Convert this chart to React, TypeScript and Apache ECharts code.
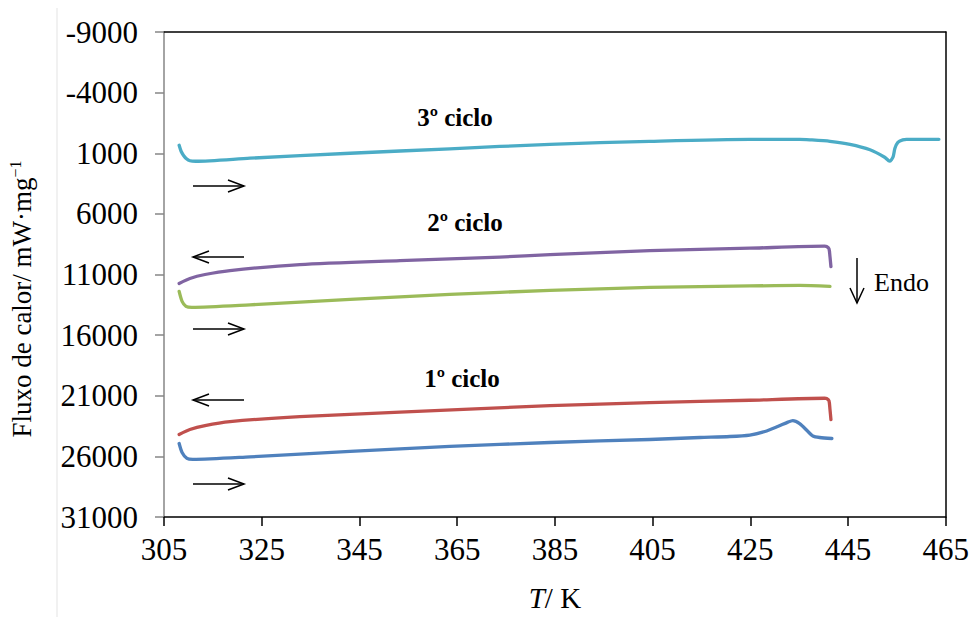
import { useEffect, useRef } from "react";
import * as echarts from "echarts";

const xTicks = [305, 325, 345, 365, 385, 405, 425, 445, 465];
const yTicks = [-9000, -4000, 1000, 6000, 11000, 16000, 21000, 26000, 31000];

// 3º ciclo – aquecimento
const ciclo3Aquec: [number, number][] = [
  [308.1, 345], [308.5, 836], [309.0, 1180], [309.6, 1460], [310.3, 1620], [311.5, 1660],
  [322.6, 1410], [343.1, 1000], [363.5, 631], [384.0, 263], [404.4, 17], [424.9, -147],
  [435.1, -147], [437.2, -107], [441.3, 17], [445.4, 263], [449.5, 713], [452.5, 1328],
  [453.5, 1656], [454.2, 1328], [454.6, 590], [455.2, 98], [456.2, -107], [457.0, -147],
  [463.6, -147],
];
// 2º ciclo – arrefecimento
const ciclo2Arref: [number, number][] = [
  [441.5, 10345], [441.3, 9500], [441.1, 8870], [440.6, 8690], [440.2, 8665], [424.9, 8829],
  [404.4, 9033], [384.0, 9361], [373.7, 9566], [353.3, 9853], [332.8, 10181], [318.5, 10673],
  [313.4, 11000], [310.3, 11328], [308.1, 11738],
];
// 2º ciclo – aquecimento
const ciclo2Aquec: [number, number][] = [
  [308.1, 12394], [308.7, 13213], [309.5, 13623], [310.7, 13705], [322.6, 13500],
  [343.1, 13050], [363.5, 12640], [384.0, 12312], [404.4, 12066], [424.9, 11943],
  [435.1, 11902], [441.3, 11984],
];
// 1º ciclo – arrefecimento
const ciclo1Arref: [number, number][] = [
  [441.5, 22968], [441.3, 22100], [441.1, 21411], [440.6, 21230], [440.2, 21206],
  [424.9, 21370], [404.4, 21575], [384.0, 21821], [353.3, 22353], [332.8, 22722],
  [318.5, 23132], [313.4, 23460], [310.3, 23788], [308.1, 24198],
];
// 1º ciclo – aquecimento
const ciclo1Aquec: [number, number][] = [
  [308.1, 24936], [308.7, 25674], [309.7, 26166], [310.9, 26248], [322.6, 26043],
  [343.1, 25592], [363.5, 25182], [384.0, 24854], [404.4, 24608], [414.7, 24444],
  [420.8, 24362], [424.9, 24239], [428.0, 23952], [430.6, 23542], [432.7, 23173],
  [433.7, 23050], [435.1, 23296], [436.8, 23952], [437.8, 24321], [439.2, 24444],
  [441.7, 24526],
];

const seriesNames = ["3º ciclo aquecimento", "2º ciclo arrefecimento", "2º ciclo aquecimento", "1º ciclo arrefecimento", "1º ciclo aquecimento"];
const seriesColors = ["#4BACC6", "#8064A2", "#9BBB59", "#C0504D", "#4F81BD"];
const seriesData = [ciclo3Aquec, ciclo2Arref, ciclo2Aquec, ciclo1Arref, ciclo1Aquec];

const FONT = "'Liberation Serif', 'Times New Roman', serif";

function arrowRight(x: number, y: number) {
  return {
    type: "group",
    children: [
      { type: "line", shape: { x1: x, y1: y, x2: x + 51, y2: y }, style: { stroke: "#000", lineWidth: 1.5 } },
      { type: "polyline", shape: { points: [[x + 35, y - 6], [x + 51, y], [x + 35, y + 6]] }, style: { stroke: "#000", lineWidth: 1.5, fill: null } },
    ],
  };
}
function arrowLeft(x: number, y: number) {
  return {
    type: "group",
    children: [
      { type: "line", shape: { x1: x, y1: y, x2: x + 51, y2: y }, style: { stroke: "#000", lineWidth: 1.5 } },
      { type: "polyline", shape: { points: [[x + 16, y - 6], [x, y], [x + 16, y + 6]] }, style: { stroke: "#000", lineWidth: 1.5, fill: null } },
    ],
  };
}

export default function App() {
  const ref = useRef<HTMLDivElement>(null);
  useEffect(() => {
    document.body.style.margin = "0";
    const chart = echarts.init(ref.current!, null, { renderer: "svg" });
    chart.setOption({
      animation: false,
      backgroundColor: "#fff",
      grid: { left: 164, right: 26, top: 32, bottom: 97 },
      xAxis: [
        {
          type: "value",
          min: 305,
          max: 465,
          name: "{i|T}/ K",
          nameLocation: "middle",
          nameGap: 66,
          nameTextStyle: {
            fontFamily: FONT,
            fontSize: 29,
            color: "#000",
            rich: { i: { fontFamily: FONT, fontSize: 29, fontStyle: "italic", color: "#000" } },
          },
          axisLine: { show: true, onZero: false, lineStyle: { color: "#000", width: 1.5 } },
          axisTick: { show: true, length: 9, customValues: xTicks, lineStyle: { color: "#000", width: 1.5 } },
          axisLabel: {
            customValues: xTicks,
            margin: 17,
            fontFamily: FONT,
            fontSize: 31,
            color: "#000",
            formatter: (v: number) => String(v),
          },
          splitLine: { show: false },
        },
        {
          type: "value",
          position: "top",
          min: 305,
          max: 465,
          axisLine: { show: true, onZero: false, lineStyle: { color: "#000", width: 1.5 } },
          axisTick: { show: false },
          axisLabel: { show: false },
          splitLine: { show: false },
        },
      ],
      yAxis: [
        {
          type: "value",
          inverse: true,
          min: -9000,
          max: 31000,
          axisLine: { show: true, onZero: false, lineStyle: { color: "#868686", width: 1.5 } },
          axisTick: { show: true, length: 9, customValues: yTicks, lineStyle: { color: "#868686", width: 1.5 } },
          axisLabel: {
            customValues: yTicks,
            margin: 26,
            fontFamily: FONT,
            fontSize: 31,
            color: "#000",
            formatter: (v: number) => String(v),
          },
          splitLine: { show: false },
        },
        {
          type: "value",
          position: "right",
          inverse: true,
          min: -9000,
          max: 31000,
          axisLine: { show: true, onZero: false, lineStyle: { color: "#000", width: 1.5 } },
          axisTick: { show: false },
          axisLabel: { show: false },
          splitLine: { show: false },
        },
      ],
      series: seriesData.map((d, i) => ({
        name: seriesNames[i],
        type: "line",
        data: d,
        showSymbol: false,
        symbol: "none",
        smooth: 0.25,
        lineStyle: { color: seriesColors[i], width: 3.3, cap: "round", join: "round" },
        itemStyle: { color: seriesColors[i] },
      })),
      graphic: [
        { type: "line", shape: { x1: 57, y1: 8, x2: 57, y2: 617 }, style: { stroke: "#e3e3e3", lineWidth: 1 } },
        {
          type: "text",
          x: 22,
          y: 299,
          rotation: Math.PI / 2,
          style: {
            text: "Fluxo de calor/ mW·mg{s|−1}",
            fontFamily: FONT,
            fontSize: 27,
            fill: "#000",
            align: "center",
            verticalAlign: "middle",
            rich: { s: { fontFamily: FONT, fontSize: 16, fill: "#000", verticalAlign: "top", padding: [0, 0, 14, 0] } },
          },
        },
        { type: "text", x: 455, y: 117, style: { text: "3º ciclo", fontFamily: FONT, fontSize: 25, fontWeight: "bold", fill: "#000", align: "center", verticalAlign: "middle" } },
        { type: "text", x: 465, y: 222, style: { text: "2º ciclo", fontFamily: FONT, fontSize: 25, fontWeight: "bold", fill: "#000", align: "center", verticalAlign: "middle" } },
        { type: "text", x: 462, y: 378, style: { text: "1º ciclo", fontFamily: FONT, fontSize: 25, fontWeight: "bold", fill: "#000", align: "center", verticalAlign: "middle" } },
        { type: "text", x: 874, y: 282, style: { text: "Endo", fontFamily: FONT, fontSize: 26, fill: "#000", align: "left", verticalAlign: "middle" } },
        {
          type: "group",
          children: [
            { type: "line", shape: { x1: 857, y1: 258, x2: 857, y2: 303 }, style: { stroke: "#000", lineWidth: 1.5 } },
            { type: "polyline", shape: { points: [[850, 288], [857, 303], [864, 288]] }, style: { stroke: "#000", lineWidth: 1.5, fill: null } },
          ],
        },
        arrowRight(193, 186),
        arrowLeft(193, 257),
        arrowRight(193, 329),
        arrowLeft(193, 400),
        arrowRight(193, 484),
      ],
    });
    return () => chart.dispose();
  }, []);
  return <div ref={ref} style={{ width: 972, height: 617 }} />;
}
